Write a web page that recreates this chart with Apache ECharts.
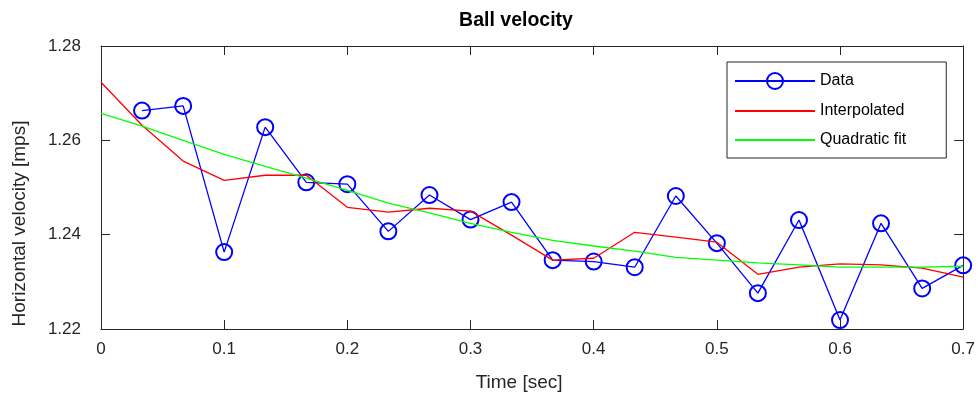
<!DOCTYPE html>
<html>
<head>
<meta charset="utf-8">
<script src="https://cdn.jsdelivr.net/npm/echarts@6/dist/echarts.min.js"></script>
<style>
  html, body { margin: 0; padding: 0; background: #fff; }
  #chart { width: 978px; height: 399px; }
</style>
</head>
<body>
<div id="chart"></div>
<script>
// sample times [sec]
const dataTimes = [0.0333, 0.0667, 0.1, 0.1333, 0.1667, 0.2, 0.2333, 0.2667, 0.3, 0.3333, 0.3667,
  0.4, 0.4333, 0.4667, 0.5, 0.5333, 0.5667, 0.6, 0.6333, 0.6667, 0.7];
const dataValues = [1.2663, 1.2673, 1.2363, 1.2628, 1.2511, 1.2507, 1.2407, 1.2484, 1.2432, 1.2469, 1.2346,
  1.2343, 1.2331, 1.2482, 1.2382, 1.2276, 1.2431, 1.2219, 1.2424, 1.2286, 1.2335];

const fitTimes = [0, 0.0333, 0.0667, 0.1, 0.1333, 0.1667, 0.2, 0.2333, 0.2667, 0.3, 0.3333, 0.3667,
  0.4, 0.4333, 0.4667, 0.5, 0.5333, 0.5667, 0.6, 0.6333, 0.6667, 0.7];
const interpValues = [1.2723, 1.2632, 1.2556, 1.2515, 1.2526, 1.2526, 1.2458, 1.2448, 1.2456, 1.2450, 1.2399,
  1.2346, 1.2350, 1.2405, 1.2395, 1.2384, 1.2316, 1.2331, 1.2338, 1.2336, 1.2329, 1.2310];
const quadValues = [1.2657, 1.2630, 1.2600, 1.2570, 1.2545, 1.2520, 1.2494, 1.2467, 1.2446, 1.2424, 1.2405,
  1.2388, 1.2376, 1.2365, 1.2352, 1.2346, 1.2340, 1.2336, 1.2331, 1.2331, 1.2331, 1.2333];

const xTicks = [0, 0.1, 0.2, 0.3, 0.4, 0.5, 0.6, 0.7];
const yTicks = [1.22, 1.24, 1.26, 1.28];

const axisColor = '#262626';
const fontFamily = 'Liberation Sans, Arial, sans-serif';

const zip = (xs, ys) => xs.map((x, i) => [x, ys[i]]);

const chart = echarts.init(document.getElementById('chart'));

const baseX = {
  type: 'value',
  min: xTicks[0],
  max: xTicks[xTicks.length - 1],
  interval: 0.1,
  axisLine: { show: true, onZero: false, lineStyle: { color: axisColor, width: 1 } },
  axisTick: { show: true, inside: true, length: 9, lineStyle: { color: axisColor } },
  splitLine: { show: false },
};
const baseY = {
  type: 'value',
  min: yTicks[0],
  max: yTicks[yTicks.length - 1],
  interval: 0.02,
  axisLine: { show: true, onZero: false, lineStyle: { color: axisColor, width: 1 } },
  axisTick: { show: true, inside: true, length: 9, lineStyle: { color: axisColor } },
  splitLine: { show: false },
};

const option = {
  animation: false,
  backgroundColor: '#fff',
  textStyle: { fontFamily },
  title: {
    text: 'Ball velocity',
    left: 511,
    textAlign: 'center',
    top: 6,
    textStyle: { fontFamily, fontSize: 19.5, fontWeight: 'bold', color: '#000' },
  },
  grid: { left: 101, right: 10, top: 46, bottom: 70 },
  legend: {
    orient: 'vertical',
    left: 727,
    top: 62,
    itemWidth: 80,
    itemHeight: 20,
    itemGap: 13,
    padding: [10, 40, 10, 7],
    borderColor: axisColor,
    borderWidth: 1,
    backgroundColor: '#fff',
    textStyle: { fontFamily, fontSize: 16, color: '#000' },
    data: [
      { name: 'Data' },
      { name: 'Interpolated', itemStyle: { opacity: 0 } },
      { name: 'Quadratic fit', itemStyle: { opacity: 0 } },
    ],
  },
  xAxis: [
    Object.assign({}, baseX, {
      position: 'bottom',
      name: 'Time [sec]',
      nameLocation: 'middle',
      nameGap: 44,
      nameTextStyle: { fontFamily, fontSize: 19, color: axisColor, padding: [0, 26, 0, 0] },
      axisLabel: {
        margin: 12, fontSize: 17, color: axisColor, fontFamily,
        formatter: v => String(Math.round(v * 10) / 10),
      },
    }),
    Object.assign({}, baseX, { position: 'top', axisLabel: { show: false } }),
  ],
  yAxis: [
    Object.assign({}, baseY, {
      position: 'left',
      name: 'Horizontal velocity [mps]',
      nameLocation: 'middle',
      nameGap: 72,
      nameTextStyle: { fontFamily, fontSize: 19, color: axisColor, padding: [0, 72, 0, 0] },
      axisLabel: {
        margin: 20, fontSize: 17, color: axisColor, fontFamily,
        formatter: v => v.toFixed(2),
      },
    }),
    Object.assign({}, baseY, { position: 'right', axisLabel: { show: false } }),
  ],
  series: [
    {
      name: 'Data',
      type: 'line',
      data: zip(dataTimes, dataValues),
      symbol: 'circle',
      symbolSize: 16,
      showAllSymbol: true,
      clip: false,
      lineStyle: { color: '#0000ff', width: 1.3 },
      itemStyle: { color: 'rgba(0,0,0,0)', borderColor: '#0000ff', borderWidth: 2 },
      z: 3,
    },
    {
      name: 'Interpolated',
      type: 'line',
      data: zip(fitTimes, interpValues),
      showSymbol: false,
      symbol: 'none',
      lineStyle: { color: '#ff0000', width: 1.3 },
      itemStyle: { color: '#ff0000' },
      z: 4,
    },
    {
      name: 'Quadratic fit',
      type: 'line',
      data: zip(fitTimes, quadValues),
      showSymbol: false,
      symbol: 'none',
      lineStyle: { color: '#00ff00', width: 1.3 },
      itemStyle: { color: '#00ff00' },
      z: 5,
    },
  ],
};

chart.setOption(option);
</script>
</body>
</html>
